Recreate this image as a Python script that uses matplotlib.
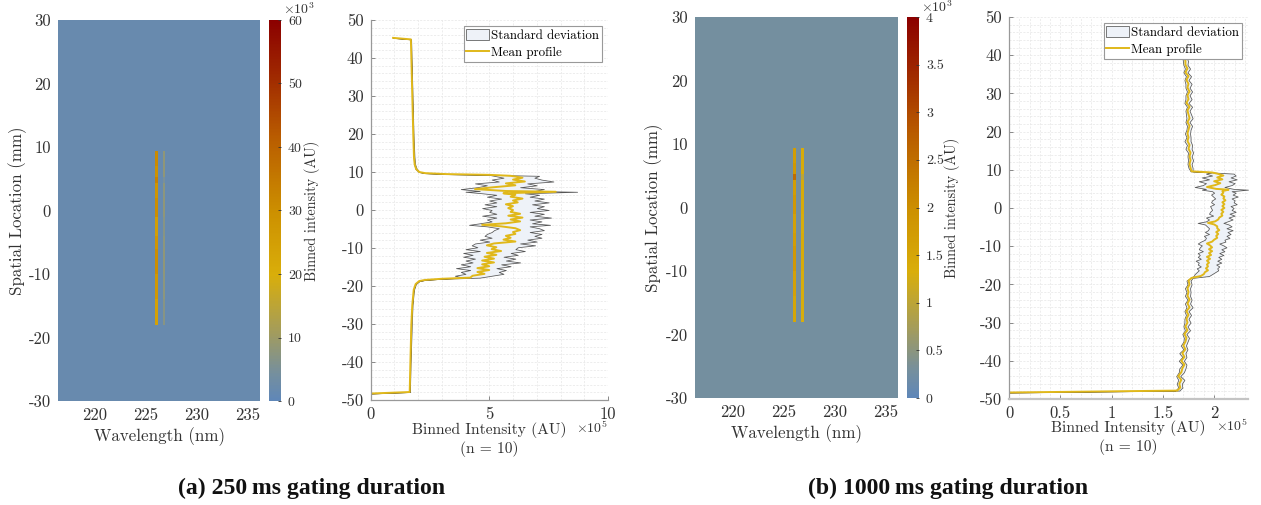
import numpy as np
import matplotlib
matplotlib.use("Agg")
import matplotlib.pyplot as plt
from matplotlib.colors import LinearSegmentedColormap
from matplotlib.ticker import MultipleLocator

plt.rcParams['font.family'] = ['cmr10', 'DejaVu Sans']
plt.rcParams['mathtext.fontset'] = 'cm'
plt.rcParams['axes.formatter.use_mathtext'] = True

W, H = 1261, 505

# ---- heat maps -----------------------------------------------------------
wave_edges_a = [216.37, 225.87, 226.2, 226.72, 226.92, 236.2]
wave_edges_b = [216.27, 225.85, 226.15, 226.66, 226.95, 236.2]
row_edges = [-30, -18, -14, -10, -6, -4, -1, 2, 4.4, 5.2, 7, 9.3, 30]
background_a = 1.8e3
background_b = 0.27e3
main_line_a = [24e3, 27e3, 30e3, 28e3, 25e3, 30e3, 28e3, 33e3, 29e3, 31e3, 28e3]
side_line_a = [7e3, 7.5e3, 8e3, 7.5e3, 7e3, 8e3, 7.5e3, 5e3, 8e3, 8e3, 8e3]
main_line_b = [1.5e3, 1.6e3, 1.8e3, 1.7e3, 1.6e3, 1.8e3, 1.7e3, 2.5e3, 1.8e3, 1.7e3, 1.6e3]
side_line_b = [1.3e3, 1.3e3, 1.4e3, 1.4e3, 1.3e3, 1.4e3, 1.4e3, 1.0e3, 1.4e3, 1.4e3, 1.4e3]
vmax_a, vmax_b = 60e3, 4e3
cbar_ticks_a = [0, 10e3, 20e3, 30e3, 40e3, 50e3, 60e3]
cbar_labels_a = ['0', '10', '20', '30', '40', '50', '60']
cbar_ticks_b = [0, .5e3, 1e3, 1.5e3, 2e3, 2.5e3, 3e3, 3.5e3, 4e3]
cbar_labels_b = ['0', '0.5', '1', '1.5', '2', '2.5', '3', '3.5', '4']
wave_ticks = [220, 225, 230, 235]
space_ticks = [-30, -20, -10, 0, 10, 20, 30]
profile_yticks = [-50, -40, -30, -20, -10, 0, 10, 20, 30, 40, 50]

# ---- profile (a): intensity x 1e5 -----------------------------------------
y_top_a = [45.3, 44.9, 40, 30, 20, 14, 12, 10.8, 10, 9.7, 9.45, 9.25]
mean_top_a = [0.95, 1.7, 1.72, 1.76, 1.8, 1.83, 1.86, 1.92, 2.05, 2.3, 3.2, 5.0]
y_mid_a = [9.0, 8.5, 8.0, 7.5, 7.0, 6.5, 6.0, 5.5, 5.0, 4.8, 4.4, 4.0, 3.5, 3.0, 2.5, 2.0, 1.5, 1.0, 0.5, 0.0,
           -0.5, -1.0, -1.5, -2.0, -2.5, -3.0, -3.5, -3.9, -4.3, -4.8, -5.3, -5.8, -6.3, -6.8, -7.3, -7.8, -8.3,
           -8.8, -9.3, -9.8, -10.3, -10.8, -11.3, -11.8, -12.3, -12.8, -13.3, -13.8, -14.3, -14.8, -15.3, -15.8,
           -16.3, -16.8, -17.3, -17.8]
mean_mid_a = [5.9, 6.4, 6.0, 6.5, 5.7, 6.1, 5.2, 4.4, 5.7, 7.8, 5.6, 6.1, 5.9, 6.4, 6.0, 6.2, 5.7, 6.0, 5.8, 6.0,
              5.9, 6.3, 5.8, 6.4, 5.9, 6.3, 5.7, 4.7, 5.5, 6.1, 6.3, 6.0, 6.1, 5.7, 5.9, 5.6, 6.1,
              5.2, 4.9, 5.3, 5.1, 5.5, 4.9, 5.3, 4.8, 5.2, 4.7, 5.2, 4.7, 5.0, 4.5, 5.0, 4.5, 4.8, 4.3, 4.2]
lower_a = [5.2, 5.6, 5.1, 5.4, 4.4, 4.9, 4.5, 3.8, 4.6, 4.0, 4.7, 5.3, 4.9, 5.5, 5.0, 5.3, 4.8, 5.3, 4.7, 5.1,
           5.0, 5.3, 4.7, 5.3, 4.9, 5.1, 4.6, 4.15, 4.9, 5.4, 5.2, 5.1, 4.9, 4.8, 5.1, 4.6, 5.0,
           4.4, 4.26, 4.5, 4.0, 4.6, 3.9, 4.3, 3.9, 4.4, 4.0, 4.3, 3.8, 4.2, 3.6, 4.2, 3.8, 4.0, 3.55, 3.9]
upper_a = [7.1, 6.9, 7.2, 7.7, 6.6, 7.0, 6.3, 7.3, 6.9, 8.7, 6.5, 7.1, 6.7, 7.3, 6.9, 7.5, 6.8, 7.3, 7.0, 7.5,
           6.7, 7.3, 6.9, 7.6, 6.7, 7.2, 6.8, 7.56, 6.7, 7.1, 7.3, 6.7, 7.2, 6.9, 7.2, 6.6, 7.0,
           6.3, 6.93, 6.2, 6.1, 6.5, 5.9, 6.2, 5.6, 6.1, 5.7, 6.3, 5.5, 5.9, 5.3, 5.7, 5.4, 5.6, 5.1, 4.6]
y_bot_a = [-18.1, -18.4, -18.7, -19.5, -21, -25, -30, -40, -47.9, -48.3]
mean_bot_a = [3.0, 2.3, 2.05, 1.9, 1.82, 1.76, 1.72, 1.68, 1.65, 0.0]
band_top_a = [0.0, 0.01, 0.01, 0.01, 0.01, 0.02, 0.02, 0.03, 0.02, 0.01, 0.01, 0.01]
band_bot_a = [0.01, 0.01, 0.01, 0.01, 0.01, 0.01, 0.02, 0.01, 0.01, 0.0]

# ---- profile (b): intensity x 1e5 -----------------------------------------
y_top_b = [39.5, 38.5, 37.5, 36.5, 35.5, 34.5, 33.5, 32.5, 31.5, 30.5, 29.5, 28.5, 27.5, 26.5, 25.5, 24.5, 23.5,
           22.5, 21.5, 20.5, 19.5, 18.5, 17.5, 16.5, 15.5, 14.5, 13.5, 12.5, 11.5, 10.5, 9.6, 9.3]
mean_top_b = [1.71, 1.72, 1.72, 1.74, 1.72, 1.75, 1.73, 1.75, 1.74, 1.76, 1.74, 1.75, 1.73, 1.76, 1.74, 1.75, 1.76,
              1.74, 1.76, 1.75, 1.74, 1.75, 1.74, 1.76, 1.75, 1.77, 1.76, 1.77, 1.76, 1.77, 1.78, 1.98]
std_top_b = [0.02, 0.025, 0.02, 0.025, 0.02, 0.025, 0.02, 0.03, 0.02, 0.025, 0.02, 0.03, 0.02, 0.025, 0.02, 0.025,
             0.03, 0.02, 0.025, 0.02, 0.025, 0.02, 0.03, 0.025, 0.03, 0.025, 0.02, 0.025, 0.02, 0.02, 0.01, 0.01]
y_mid_b = [9.0, 8.5, 8.0, 7.5, 7.0, 6.5, 6.0, 5.5, 5.0, 4.8, 4.4, 4.0, 3.5, 3.0, 2.5, 2.0, 1.5, 1.0, 0.5, 0.0,
           -0.5, -1.0, -1.5, -2.0, -2.5, -3.0, -3.5, -3.9, -4.3, -4.8, -5.3, -5.8, -6.3, -6.8, -7.3, -7.8, -8.3,
           -8.8, -9.3, -9.8, -10.3, -10.8, -11.3, -11.8, -12.3, -12.8, -13.3, -13.8, -14.3, -14.8, -15.3, -15.8,
           -16.3, -16.8, -17.3, -17.8]
mean_mid_b = [2.03, 2.09, 2.03, 2.08, 2.00, 2.06, 2.01, 1.93, 2.02, 2.14, 2.08, 2.09, 2.07, 2.10, 2.09, 2.11, 2.08,
              2.10, 2.08, 2.10, 2.07, 2.09, 2.07, 2.08, 2.05, 2.04, 2.01, 1.94, 2.00, 2.03, 2.03, 2.05, 2.02, 2.04,
              2.02, 2.03, 2.00, 1.98, 1.93, 1.96, 1.98, 1.95, 1.98, 1.95, 1.97, 1.93, 1.96, 1.93, 1.95, 1.93, 1.94,
              1.92, 1.94, 1.91, 1.90, 1.87]
lower_b = [1.92, 1.98, 1.88, 1.95, 1.85, 1.92, 1.89, 1.81, 1.92, 1.88, 1.98, 2.00, 1.97, 1.99, 2.01, 1.98, 1.97,
           2.00, 1.96, 1.97, 1.98, 1.96, 1.95, 1.99, 1.92, 1.95, 1.92, 1.84, 1.91, 1.93, 1.95, 1.94, 1.91, 1.95,
           1.90, 1.92, 1.91, 1.87, 1.84, 1.88, 1.86, 1.85, 1.89, 1.84, 1.86, 1.84, 1.87, 1.82, 1.85, 1.84, 1.87,
           1.83, 1.85, 1.83, 1.81, 1.80]
upper_b = [2.19, 2.21, 2.16, 2.22, 2.14, 2.20, 2.17, 2.10, 2.19, 2.33, 2.17, 2.21, 2.18, 2.23, 2.17, 2.20, 2.19,
           2.22, 2.16, 2.19, 2.17, 2.21, 2.15, 2.20, 2.14, 2.18, 2.13, 2.09, 2.14, 2.17, 2.12, 2.18, 2.13, 2.16,
           2.12, 2.15, 2.10, 2.11, 2.05, 2.09, 2.12, 2.07, 2.10, 2.05, 2.09, 2.04, 2.07, 2.03, 2.07, 2.02, 2.05,
           2.03, 2.04, 2.01, 1.98, 1.95]
y_bot_b = [-18.3, -19, -20, -21, -22, -23, -24, -25, -26, -27, -28, -29, -30, -31, -32, -33, -34, -35, -36, -37,
           -38, -39, -40, -41, -42, -43, -44, -45, -46, -47, -47.8, -48.3]
mean_bot_b = [1.78, 1.75, 1.76, 1.74, 1.75, 1.74, 1.76, 1.74, 1.76, 1.73, 1.75, 1.73, 1.74, 1.72, 1.74, 1.71, 1.73,
              1.72, 1.70, 1.72, 1.69, 1.71, 1.68, 1.71, 1.69, 1.68, 1.65, 1.68, 1.66, 1.67, 1.64, 0.0]
std_bot_b = [0.01, 0.02, 0.02, 0.025, 0.02, 0.025, 0.02, 0.025, 0.03, 0.02, 0.025, 0.02, 0.03, 0.02, 0.025, 0.02,
             0.025, 0.02, 0.025, 0.02, 0.03, 0.02, 0.025, 0.02, 0.03, 0.025, 0.02, 0.03, 0.025, 0.02, 0.02, 0.0]

cmap = LinearSegmentedColormap.from_list('hot_gold', [
    (0.00, '#5f87b8'), (0.07, '#758f9e'), (0.18, '#a39c5c'), (0.33, '#d9ae0a'),
    (0.50, '#cc8f00'), (0.70, '#b85a00'), (0.85, '#a02a00'), (1.00, '#8b0000')])


def axpx(l, t, r, b):
    return [l / W, 1 - b / H, (r - l) / W, (b - t) / H]


def line_matrix(bg, main, side):
    rows = []
    for i in range(len(row_edges) - 1):
        if i == 0 or i == len(row_edges) - 2:
            rows.append([bg] * 5)
        else:
            rows.append([bg, main[i - 1], bg, side[i - 1], bg])
    return np.array(rows, dtype=float)


def heat(fig, box, cbox, edges, z, vmax, cticks, clabels, ylab_x, cb_lab_x, exp_y):
    ax = fig.add_axes(axpx(*box))
    mesh = ax.pcolormesh(edges, row_edges, z, cmap=cmap, vmin=0, vmax=vmax, rasterized=True, antialiased=False)
    ax.set_xlim(edges[0], edges[-1])
    ax.set_ylim(-30, 30)
    ax.set_xticks(wave_ticks, [str(v) for v in wave_ticks])
    ax.set_yticks(space_ticks, [str(v) for v in space_ticks])
    ax.tick_params(length=0, labelsize=12, colors='#333333', pad=5)
    for s in ax.spines.values():
        s.set_visible(False)
    ax.set_xlabel('Wavelength (nm)', fontsize=12.2, color='#333333', labelpad=3)
    fig.text(ylab_x / W, 1 - (box[1] + box[3]) / 2 / H, 'Spatial Location (mm)', rotation=90, fontsize=12.2,
             color='#333333', ha='center', va='center')
    cax = fig.add_axes(axpx(*cbox))
    cb = fig.colorbar(mesh, cax=cax)
    cb.set_ticks(cticks, labels=clabels)
    cb.ax.tick_params(direction='in', length=2.5, width=0.6, labelsize=10, colors='#333333', pad=5)
    cb.outline.set_visible(False)
    fig.text(cb_lab_x / W, 1 - (cbox[1] + cbox[3]) / 2 / H, 'Binned intensity (AU)', rotation=90, fontsize=10.3,
             color='#333333', ha='center', va='center')
    fig.text((cbox[2] + 2) / W, 1 - exp_y / H, r'$\times10^3$', fontsize=10, color='#333333', va='center')


def profile(fig, box, y, mean, lo, up, xlim, xticks, xlabels, xminor, legend_box, xlab_x, n_y, bottom_style):
    ax = fig.add_axes(axpx(*box))
    ax.set_axisbelow(True)
    ax.fill_betweenx(y, lo, up, facecolor='#eef2f8', edgecolor='#555555', linewidth=0.55, label='Standard deviation')
    ax.plot(mean, y, color='#e0b81a', lw=1.4, label='Mean profile')
    ax.set_xlim(*xlim)
    ax.set_ylim(-50, 50)
    ax.set_xticks(xticks, xlabels)
    ax.set_yticks(profile_yticks, [str(v) for v in profile_yticks])
    ax.xaxis.set_minor_locator(MultipleLocator(xminor))
    ax.yaxis.set_minor_locator(MultipleLocator(2))
    ax.grid(which='both', color='#e6e6e6', lw=0.5, ls=(0, (3, 2)))
    ax.tick_params(which='major', direction='in', length=3, width=0.7, color='#888888', labelsize=12,
                   labelcolor='#333333', pad=5)
    ax.tick_params(which='minor', length=0)
    for s in ('top', 'right'):
        ax.spines[s].set_visible(False)
    ax.spines['left'].set_color('#999999')
    ax.spines['left'].set_linewidth(0.9)
    ax.spines['bottom'].set_color(bottom_style[0])
    ax.spines['bottom'].set_linewidth(bottom_style[1])
    leg = ax.legend(loc='upper right', bbox_to_anchor=legend_box, fontsize=9.3, fancybox=False, framealpha=1,
                    edgecolor='#999999', borderpad=0.2, labelspacing=0.3, handlelength=1.75, handleheight=1.0,
                    handletextpad=0.2, borderaxespad=0)
    leg.get_frame().set_linewidth(0.8)
    fig.text(xlab_x / W, 1 - n_y / H, 'Binned Intensity (AU)', fontsize=11.2, color='#333333', ha='center', va='center')
    fig.text(xlab_x / W, 1 - (n_y + 19) / H, '(n = 10)', fontsize=11.2, color='#333333', ha='center', va='center')
    fig.text(box[2] / W, 1 - (n_y - 2) / H, r'$\times10^5$', fontsize=10, color='#333333', ha='right', va='center')


fig = plt.figure(figsize=(W / 100, H / 100), dpi=100)

heat(fig, (58, 20, 260, 401), (269, 20, 281, 401), wave_edges_a,
     line_matrix(background_a, main_line_a, side_line_a), vmax_a, cbar_ticks_a, cbar_labels_a, 18, 312, 9)
heat(fig, (695, 17, 898, 398), (907, 17, 919, 398), wave_edges_b,
     line_matrix(background_b, main_line_b, side_line_b), vmax_b, cbar_ticks_b, cbar_labels_b, 654, 952.5, 7)

ya = y_top_a + y_mid_a + y_bot_a
ma = mean_top_a + mean_mid_a + mean_bot_a
la = [m - s for m, s in zip(mean_top_a, band_top_a)] + lower_a + [m - s for m, s in zip(mean_bot_a, band_bot_a)]
ua = [m + s for m, s in zip(mean_top_a, band_top_a)] + upper_a + [m + s for m, s in zip(mean_bot_a, band_bot_a)]
profile(fig, (370.5, 20, 608, 400), ya, ma, la, ua, (0, 10), [0, 5, 10], ['0', '5', '10'], 1,
        (0.975, 0.984), 489, 430, ('#999999', 0.9))

yb = y_top_b + y_mid_b + y_bot_b
mb = mean_top_b + mean_mid_b + mean_bot_b
lb = [m - s for m, s in zip(mean_top_b, std_top_b)] + lower_b + [m - s for m, s in zip(mean_bot_b, std_bot_b)]
ub = [m + s for m, s in zip(mean_top_b, std_top_b)] + upper_b + [m + s for m, s in zip(mean_bot_b, std_bot_b)]
profile(fig, (1009, 17, 1248, 399), yb, mb, lb, ub, (0, 2.33), [0, 0.5, 1, 1.5, 2], ['0', '0.5', '1', '1.5', '2'],
        0.1, (0.975, 0.984), 1128, 428, ('#c4c4c4', 1.6))

fig.text(312 / W, 1 - 488 / H, '(a) 250\u2009ms gating duration', family='Liberation Serif', weight='bold',
         fontsize=17.1, ha='center', va='center', color='#111111')
fig.text(948.5 / W, 1 - 488 / H, '(b) 1000\u2009ms gating duration', family='Liberation Serif', weight='bold',
         fontsize=17.1, ha='center', va='center', color='#111111')

fig.savefig('out.png', dpi=100)
